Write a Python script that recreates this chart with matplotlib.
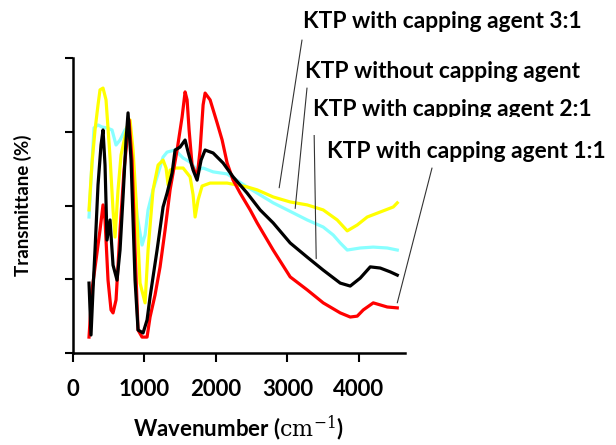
import matplotlib
matplotlib.use("Agg")
import matplotlib.pyplot as plt
from matplotlib.patches import Rectangle

plt.rcParams['font.family'] = ['Lato', 'DejaVu Sans']
plt.rcParams['mathtext.fontset'] = 'dejavuserif'

# ---- data (wavenumber cm^-1, transmittance in arbitrary %) ----
red_x = [224, 266, 322, 378, 420, 448, 490, 532, 560, 602, 658, 714, 784, 826, 868, 910, 966, 1036,
         1078, 1148, 1218, 1288, 1358, 1456, 1526, 1568, 1596, 1624, 1666, 1736, 1778, 1820, 1848, 1918,
         2016, 2086, 2156, 2240, 2338, 2478, 2576, 2800, 3038, 3276, 3500, 3738, 3878, 3976, 4060, 4200,
         4396, 4536]
red_y = [5.4, 21.4, 31.5, 41.7, 50.2, 45.1, 24.7, 14.6, 13.6, 18.0, 41.7, 62.0, 79.0, 65.4, 34.9, 7.8, 5.4, 5.4,
         12.2, 19.7, 29.2, 41.7, 55.3, 68.8, 80.0, 88.5, 85.8, 75.6, 63.7, 59.7, 68.8, 84.1, 88.1, 85.8,
         78.0, 72.2, 64.4, 58.6, 54.2, 48.5, 44.1, 34.9, 25.8, 21.4, 17.0, 13.6, 12.2, 12.5, 14.6, 17.0,
         15.6, 15.3]

black_x = [224, 252, 280, 308, 350, 392, 420, 448, 476, 518, 560, 616, 658, 700, 742, 770, 812, 868, 910,
           980, 1036, 1078, 1176, 1260, 1316, 1386, 1428, 1498, 1568, 1610, 1680, 1736, 1792, 1848, 1960,
           2100, 2240, 2436, 2618, 2800, 3038, 3276, 3500, 3738, 3878, 4018, 4158, 4298, 4438, 4536]
black_y = [23.7, 6.1, 21.4, 34.9, 57.0, 70.5, 75.6, 63.7, 38.3, 45.1, 29.8, 24.7, 34.9, 52.9, 72.2, 81.4, 65.4,
           24.7, 7.8, 6.8, 11.2, 19.0, 34.9, 49.5, 54.2, 61.0, 68.8, 69.8, 72.2, 68.1, 62.0, 58.6, 65.4, 68.8,
           67.8, 64.4, 59.7, 54.2, 48.5, 44.1, 37.3, 32.5, 28.1, 23.7, 22.7, 25.4, 29.2, 28.8, 27.5, 26.4]

cyan_x = [224, 252, 294, 350, 406, 476, 546, 602, 658, 728, 784, 840, 896, 966, 1008, 1050, 1120, 1176,
          1260, 1316, 1428, 1540, 1638, 1736, 1820, 1960, 2156, 2436, 2576, 2800, 3080, 3276, 3500, 3640,
          3738, 3836, 4018, 4200, 4396, 4536]
cyan_y = [46.1, 58.6, 76.3, 77.3, 76.6, 76.3, 75.6, 70.5, 72.2, 75.6, 77.3, 62.0, 46.8, 36.6, 40.0, 48.5,
          55.3, 59.7, 66.4, 68.1, 68.8, 66.1, 64.7, 62.0, 62.7, 61.4, 60.7, 56.3, 54.2, 50.9, 47.5, 45.1,
          42.7, 40.0, 37.3, 34.9, 35.6, 35.9, 35.6, 34.9]

yellow_x = [224, 266, 308, 350, 378, 420, 462, 518, 560, 588, 630, 672, 756, 798, 840, 882, 938, 1008,
            1050, 1120, 1190, 1260, 1302, 1330, 1358, 1428, 1540, 1638, 1680, 1708, 1750, 1806, 1918, 2156,
            2436, 2576, 2800, 3038, 3276, 3500, 3696, 3836, 3976, 4116, 4298, 4480, 4536]
yellow_y = [48.5, 64.4, 75.6, 84.1, 89.2, 89.8, 85.8, 66.4, 48.5, 39.3, 55.3, 67.1, 76.6, 79.0, 68.8, 51.9,
            23.7, 17.0, 34.9, 55.3, 63.7, 65.4, 62.7, 57.0, 62.0, 62.7, 62.7, 59.7, 53.6, 46.1, 51.9, 56.6,
            57.6, 57.6, 56.3, 55.3, 52.9, 51.2, 50.2, 48.5, 45.1, 41.4, 43.4, 46.1, 47.8, 49.5, 50.9]

labels = ["KTP with capping agent 3:1", "KTP without capping agent",
          "KTP with capping agent 2:1", "KTP with capping agent 1:1"]
# points on curves where the leader lines end (data coords)
leader_x = [2884, 3108, 3402, 4536]
leader_y = [56, 49, 32, 17]

xticks = [0, 1000, 2000, 3000, 4000]

fig = plt.figure(figsize=(6.16, 4.45), dpi=100)
ax = fig.add_axes([0.1185, 0.2067, 0.657 - 0.1185, 0.8697 - 0.2067])

lw = 2.3
ax.plot(cyan_x, cyan_y, color='#88ffff', lw=lw, zorder=2)
ax.plot(yellow_x, yellow_y, color='#ffff00', lw=lw, zorder=3)
ax.plot(red_x, red_y, color='#ff0000', lw=lw, zorder=4)
ax.plot(black_x, black_y, color='#000000', lw=lw, zorder=5)

ax.set_xlim(0, 4640)
ax.set_ylim(0, 100)
ax.set_xticks(xticks)
ax.set_xticklabels([str(t) for t in xticks], fontsize=16, fontweight='bold')
ax.set_yticks([0, 25, 50, 75, 100])
ax.set_yticklabels([])
ax.tick_params(axis='x', direction='out', length=6.5, width=1.5, pad=12)
ax.tick_params(axis='y', direction='out', length=6, width=1.5)
for s in ['top', 'right']:
    ax.spines[s].set_visible(False)
for s in ['left', 'bottom']:
    ax.spines[s].set_linewidth(1.8)

ax.set_xlabel(r'Wavenumber ($\mathrm{cm}^{-1}$)', fontsize=16, fontweight='bold', labelpad=10)
ax.set_ylabel('Transmittane (%)', fontsize=13.5, fontweight='bold', labelpad=20)

# annotation labels (figure pixel positions)
text_pos = [(303, 423), (305, 373), (313, 335), (327, 293)]
line_start = [(302, 405), (307, 357), (314, 320), (432, 277)]
for lab, (tx, ty) in zip(labels, text_pos):
    fig.text(tx / 616, ty / 445, lab, fontsize=16.4, fontweight='bold', ha='left', va='center')
# white strip that clips the bottom of the 2:1 label
fig.add_artist(Rectangle((310 / 616, 310 / 445), 295 / 616, 18 / 445, transform=fig.transFigure,
                         facecolor='white', edgecolor='none', zorder=10))
for (sx, sy), px, py in zip(line_start, leader_x, leader_y):
    ax.annotate('', xy=(px, py), xycoords='data', xytext=(sx, sy), textcoords='figure pixels',
                arrowprops=dict(arrowstyle='-', lw=0.8, color='#333333', shrinkA=0, shrinkB=0),
                annotation_clip=False)

fig.savefig('out.png', dpi=100)
